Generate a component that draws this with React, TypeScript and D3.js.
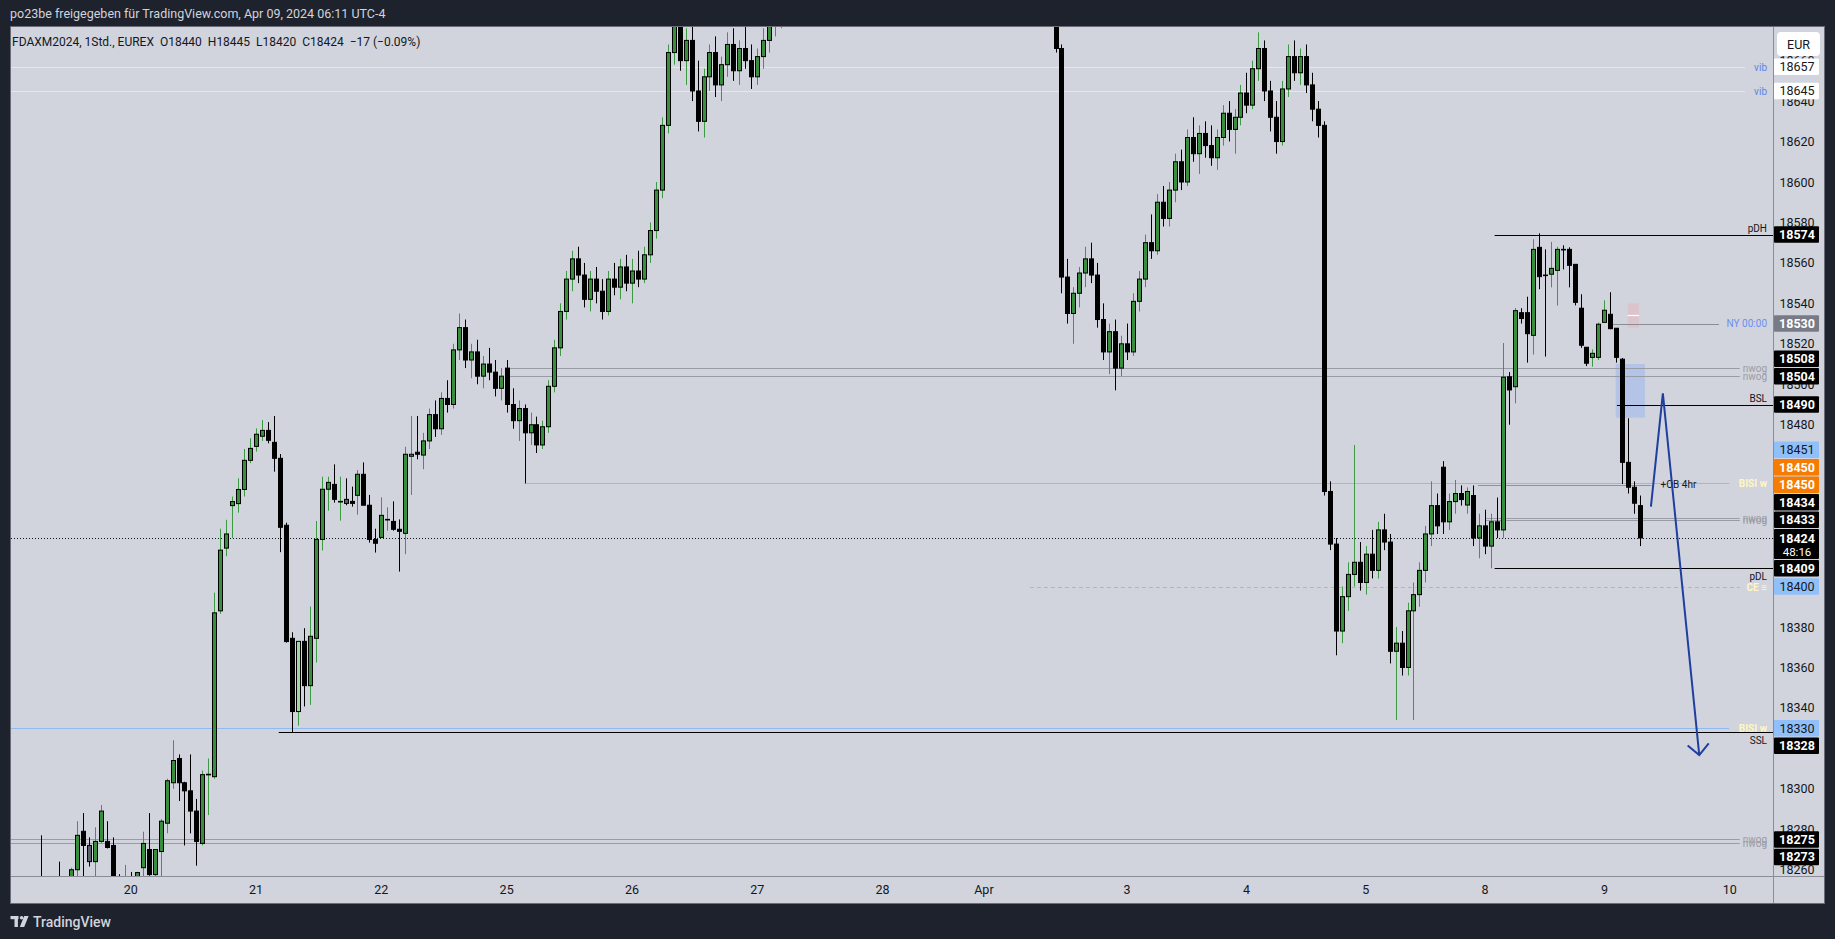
import React from 'react';
import * as d3 from 'd3';

// FDAX 1h candles, [open, high, low, close], first bar = leftmost visible wick
const candles: number[][] = [
  [18250, 18277, 18240, 18245], [18245, 18252, 18238, 18248], [18248, 18255, 18240, 18250], [18252, 18264, 18240, 18244],
  [18244, 18254, 18238, 18250], [18250, 18261, 18245, 18260], [18260, 18284, 18254, 18277], [18279, 18288, 18255, 18272],
  [18272, 18276, 18261.6, 18264], [18264, 18281, 18256, 18274], [18274, 18292, 18273, 18289], [18274, 18284, 18270.5, 18271],
  [18272, 18276, 18245, 18250], [18250, 18257.8, 18240, 18248], [18248, 18262.4, 18242, 18252], [18252, 18258.9, 18240, 18247],
  [18247, 18259, 18244, 18258.6], [18261, 18278.8, 18256, 18273], [18270, 18288, 18257, 18257.6], [18257.6, 18270, 18256.6, 18270],
  [18269, 18285, 18256, 18284], [18283, 18305, 18278, 18304], [18303, 18324, 18300, 18314], [18315, 18317, 18294, 18303],
  [18303, 18303.5, 18272, 18299], [18299, 18317, 18278, 18289], [18289, 18295, 18262, 18274], [18273, 18309, 18272, 18307],
  [18307, 18315, 18287, 18307.2], [18306, 18397, 18305, 18387], [18388, 18428.6, 18386.5, 18418], [18419, 18433, 18415, 18426],
  [18440, 18444.5, 18424, 18442], [18441, 18453.5, 18436.5, 18448], [18448, 18468, 18444.5, 18462.4], [18462.4, 18473.3, 18461, 18468.3],
  [18469.3, 18478.2, 18466.7, 18475.3], [18474.3, 18482.3, 18472, 18477.2], [18477.2, 18481.3, 18470.8, 18472.3], [18471.3, 18484.3, 18456.8, 18463.4],
  [18463.4, 18465.5, 18417, 18429.3], [18430.3, 18431.6, 18372.3, 18372.8], [18374.4, 18377.4, 18327.9, 18338.2], [18338.2, 18372.9, 18331.2, 18372.9],
  [18372.9, 18379.4, 18340.7, 18351], [18351, 18390.1, 18341.5, 18375.4], [18374.4, 18432.4, 18362.4, 18423.3], [18423.3, 18454.3, 18417.8, 18448.1],
  [18448.1, 18454.3, 18437.5, 18451.5], [18450.5, 18460.4, 18441.5, 18443.1], [18442.1, 18454.3, 18432.6, 18442.1], [18443.1, 18453.5, 18440.2, 18441.1],
  [18442.1, 18449.4, 18439.5, 18441.1], [18445.1, 18457.6, 18435.5, 18455.5], [18455.5, 18461.4, 18440.2, 18440.2], [18440.2, 18445.3, 18421.7, 18423.3],
  [18423.3, 18428.6, 18416.8, 18421.4], [18424.3, 18444.1, 18424.3, 18435.2], [18433.2, 18439.2, 18427.6, 18433.2], [18432.2, 18442.1, 18427.6, 18428.3],
  [18428.3, 18433.2, 18407.4, 18427.3], [18426.3, 18469.1, 18416, 18465.4], [18464.4, 18484.3, 18445.3, 18465.4], [18466.4, 18484.3, 18462.9, 18465.4],
  [18465, 18476, 18458, 18472], [18472, 18488, 18468, 18485], [18485, 18492, 18474, 18478], [18478, 18496, 18475, 18493],
  [18493, 18502, 18486, 18490], [18490, 18520, 18488, 18517], [18517, 18535, 18512, 18528], [18528, 18532, 18508, 18512],
  [18512, 18520, 18503, 18516], [18516, 18522, 18500, 18504], [18504, 18514, 18498, 18510], [18510, 18518, 18502, 18506],
  [18506, 18512, 18494, 18498], [18498, 18508, 18492, 18504], [18508, 18512, 18486, 18490], [18490, 18498, 18478, 18482],
  [18482, 18492, 18472, 18488], [18488, 18490, 18451, 18476], [18476, 18486, 18470, 18480], [18480, 18484, 18466, 18470],
  [18470, 18482, 18468, 18479], [18479, 18502, 18476, 18499], [18499, 18522, 18496, 18518], [18518, 18540, 18514, 18536],
  [18536, 18556, 18532, 18552], [18552, 18566, 18546, 18562], [18562, 18568, 18550, 18554], [18554, 18560, 18538, 18542],
  [18542, 18556, 18536, 18552], [18552, 18558, 18540, 18546], [18546, 18552, 18532, 18536], [18536, 18556, 18534, 18552],
  [18552, 18560, 18544, 18548], [18548, 18562, 18542, 18558], [18558, 18564, 18546, 18550], [18550, 18562, 18540, 18556],
  [18556, 18566, 18548, 18552], [18552, 18568, 18550, 18564], [18564, 18580, 18560, 18576], [18576, 18600, 18572, 18596],
  [18596, 18632, 18592, 18628], [18628, 18668, 18624, 18664], [18664, 18690, 18658, 18684], [18684, 18692, 18655, 18660],
  [18660, 18676, 18648, 18670], [18670, 18680, 18640, 18645], [18645, 18660, 18625, 18630], [18630, 18656, 18622, 18652],
  [18652, 18668, 18645, 18664], [18664, 18672, 18642, 18648], [18648, 18662, 18640, 18658], [18658, 18674, 18652, 18668],
  [18668, 18676, 18650, 18655], [18655, 18670, 18648, 18666], [18666, 18678, 18656, 18660], [18660, 18668, 18646, 18652],
  [18652, 18666, 18648, 18662], [18662, 18676, 18656, 18670], [18670, 18684, 18664, 18680], [18680, 18692, 18672, 18688],
  [18688, 18700, 18676, 18694], [18694, 18712, 18690, 18708],
  // above the visible window
  [18708, 18725, 18700, 18720], [18720, 18732, 18712, 18716], [18716, 18730, 18708, 18726], [18726, 18740, 18718, 18734],
  [18734, 18742, 18722, 18728], [18728, 18738, 18716, 18720], [18720, 18734, 18712, 18730], [18730, 18748, 18726, 18744],
  [18744, 18756, 18736, 18740], [18740, 18750, 18728, 18732], [18732, 18744, 18724, 18740], [18740, 18758, 18736, 18752],
  [18752, 18764, 18744, 18748], [18748, 18756, 18734, 18738], [18738, 18748, 18728, 18744], [18744, 18760, 18740, 18756],
  [18756, 18770, 18750, 18762], [18762, 18774, 18752, 18756], [18756, 18766, 18744, 18748], [18748, 18760, 18740, 18754],
  [18754, 18772, 18750, 18768], [18768, 18780, 18758, 18764], [18764, 18776, 18754, 18770], [18770, 18786, 18764, 18780],
  [18780, 18790, 18768, 18774], [18774, 18784, 18762, 18766], [18766, 18778, 18756, 18772], [18772, 18782, 18760, 18764],
  [18764, 18772, 18748, 18754], [18754, 18766, 18744, 18760], [18760, 18776, 18754, 18770], [18770, 18778, 18756, 18762],
  [18762, 18774, 18752, 18768], [18768, 18780, 18760, 18776], [18776, 18788, 18766, 18772], [18772, 18780, 18756, 18760],
  [18760, 18768, 18742, 18748], [18748, 18760, 18736, 18752], [18752, 18762, 18738, 18742], [18742, 18750, 18726, 18732],
  [18732, 18744, 18720, 18738], [18738, 18746, 18722, 18726], [18726, 18736, 18712, 18718], [18718, 18728, 18704, 18710],
  [18710, 18714, 18664, 18666], [18666, 18668, 18545, 18553], [18553, 18562, 18530, 18535], [18535, 18548, 18520, 18545],
  [18545, 18558, 18538, 18555], [18555, 18568, 18548, 18562], [18562, 18570, 18550, 18554], [18554, 18560, 18528, 18532],
  [18532, 18540, 18512, 18516], [18516, 18530, 18505, 18526], [18526, 18532, 18497, 18508], [18508, 18524, 18504, 18520],
  [18520, 18530, 18512, 18516], [18516, 18545, 18514, 18541], [18541, 18556, 18536, 18552], [18552, 18574, 18548, 18570],
  [18570, 18584, 18562, 18566], [18566, 18594, 18564, 18590], [18590, 18598, 18578, 18582], [18582, 18600, 18578, 18596],
  [18596, 18614, 18590, 18610], [18610, 18616, 18596, 18600], [18600, 18626, 18598, 18622], [18622, 18632, 18610, 18614],
  [18614, 18628, 18604, 18624], [18624, 18630, 18612, 18618], [18618, 18628, 18608, 18612], [18612, 18626, 18606, 18622],
  [18622, 18638, 18618, 18634], [18634, 18640, 18620, 18626], [18626, 18636, 18614, 18632], [18632, 18648, 18628, 18644],
  [18644, 18654, 18634, 18638], [18638, 18660, 18636, 18656], [18656, 18674, 18650, 18666], [18666, 18670, 18640, 18645],
  [18645, 18650, 18625, 18632], [18632, 18640, 18614, 18620], [18620, 18650, 18618, 18646], [18646, 18668, 18642, 18662],
  [18662, 18670, 18650, 18654], [18654, 18666, 18648, 18662], [18662, 18668, 18644, 18648], [18648, 18654, 18630, 18636],
  [18636, 18640, 18622, 18628], [18628, 18630, 18445, 18447], [18447, 18452, 18418, 18421], [18421, 18424, 18366, 18378],
  [18378, 18400, 18372, 18395], [18395, 18412, 18388, 18406], [18406, 18470, 18400, 18412], [18412, 18422, 18398, 18402],
  [18402, 18420, 18396, 18416], [18416, 18428, 18404, 18408], [18408, 18432, 18404, 18428], [18428, 18436, 18418, 18422],
  [18422, 18426, 18362, 18368], [18368, 18380, 18334, 18372], [18372, 18378, 18356, 18360], [18360, 18392, 18356, 18388],
  [18388, 18402, 18334, 18396], [18396, 18412, 18390, 18408], [18408, 18430, 18402, 18426], [18426, 18452, 18420, 18440],
  [18440, 18446, 18426, 18430], [18459, 18462, 18426, 18432], [18432, 18446, 18428, 18442], [18442, 18452.7, 18436, 18446],
  [18446, 18450, 18440, 18443], [18440.3, 18449, 18436, 18447], [18445, 18450, 18420, 18424], [18424, 18436, 18414, 18430],
  [18430, 18438, 18416, 18420], [18420, 18436, 18409, 18432], [18432, 18444, 18424, 18428], [18428, 18520.4, 18424, 18503.5],
  [18503.7, 18506, 18480, 18497.2], [18498.8, 18537.7, 18490.6, 18536.4], [18535.4, 18537.6, 18530, 18532.5], [18535.4, 18543.3, 18510.7, 18525],
  [18524.2, 18571.7, 18514.7, 18566.7], [18567.7, 18574.6, 18547, 18553.2], [18554, 18566.7, 18513.7, 18553.9], [18554.4, 18570.4, 18547.9, 18557.3],
  [18556.3, 18568, 18538.9, 18566.7], [18566.7, 18568.7, 18556.8, 18566.6], [18566.7, 18567.7, 18547.9, 18558.8], [18559.3, 18559.3, 18539, 18540.5],
  [18537.6, 18544.5, 18518, 18519.3], [18518.3, 18518.3, 18509, 18510.4], [18513.3, 18517.3, 18508.7, 18515.3], [18513.3, 18530.5, 18512, 18529.7],
  [18530.6, 18541.5, 18530.6, 18536.6], [18534.6, 18545.5, 18527.2, 18527.5], [18527.7, 18527.7, 18510.7, 18513.3], [18512.4, 18513, 18450.7, 18461.4],
  [18461.4, 18483.2, 18446, 18449.1], [18449.1, 18452, 18436, 18441.2], [18440, 18445, 18420, 18424],
];
const lightCandles = [43];
const grayCandles = [8, 51];

const dayLabels = ['20', '21', '22', '25', '26', '27', '28', 'Apr', '3', '4', '5', '8', '9', '10'];
const dayBars = [15, 36, 57, 78, 99, 120, 141, 158, 182, 202, 222, 242, 262, 283];
const priceTicks = d3.range(18260, 18661, 20);

// price scale labels
const labelPrices = [18657, 18645, 18574, 18530, 18508, 18504, 18490, 18451, 18450, 18450, 18434, 18433, 18409, 18400, 18330, 18328, 18275, 18273];
const labelKinds = ['white', 'white', 'black', 'gray', 'black', 'black', 'black', 'blue', 'orange', 'orange', 'black', 'black', 'black', 'blue', 'blue', 'black', 'black', 'black'];
const lastClose = 18424;
const countdown = '48:16';

// horizontal levels drawn on the chart: price, first bar (null = from left edge), text
const levelPrices = [18657, 18645, 18508, 18504, 18451, 18434, 18433, 18400, 18330, 18275, 18273];
const levelStart = [null, null, 78, 78, 81, 242, 242, 165.7, null, null, null];
const levelText = ['vib', 'vib', 'nwog', 'nwog', 'BISI w', 'nwog', 'nwog', 'CE ≡', 'BISI w', 'nwog', 'nwog'];
const levelKind = ['vib', 'vib', 'nwog', 'nwog', 'bisi', 'nwog', 'nwog', 'ce', 'bisi', 'nwog', 'nwog'];
// solid black liquidity lines with text above/below
const liqPrices = [18574, 18490, 18409, 18328];
const liqStart = [243.6, 264.1, 243.6, 39.8];
const liqText = ['pDH', 'BSL', 'pDL', 'SSL'];
const liqTextAbove = [true, true, false, false];

const obPrice = 18450, obFrom = 240.8, obTo = 269.9;
const nyPrice = 18530, nyFrom = 262.6, nyTo = 281.2;
const fvgBlue = { from: 263.9, to: 268.8, lo: 18483.5, hi: 18510 };
const fvgPink = { from: 265.9, to: 267.8, lo: 18528, hi: 18540, mid: 18534 };
// hand-drawn arrow (bar index, price)
const arrowPts = [[269.8, 18439.5], [271.8, 18495.5], [277.9, 18316.7]];

const W = 1835, H = 939;
const L = 11, R = 1773, T = 27, B = 876;
const font = 'Roboto, "Noto Sans", sans-serif';

export default function App() {
  const x = d3.scaleLinear().domain([0, 1]).range([41.3, 41.3 + 5.966]);
  const y = d3.scaleLinear().domain([18380, 18600]).range([627, 182]);

  // price label layout: stack away from the last price
  const LH = 17.5;
  const cur = y(lastClose);
  const items = labelPrices.map((p, i) => ({ p, kind: labelKinds[i], cy: y(p), i }));
  let lim = cur - 9;
  items.filter(d => d.p > lastClose).sort((a, b) => a.p - b.p || b.i - a.i).forEach(d => {
    d.cy = Math.min(y(d.p), lim - LH / 2); lim = d.cy - LH / 2;
  });
  lim = cur + 21;
  items.filter(d => d.p < lastClose).sort((a, b) => b.p - a.p).forEach(d => {
    d.cy = Math.max(y(d.p), lim + LH / 2); lim = d.cy + LH / 2;
  });
  const boxes = items.map(d => [d.cy - LH / 2, d.cy + LH / 2]).concat([[cur - 9, cur + 21], [32, 56]]);
  // tick labels mostly hidden under a price label are not drawn
  const ticks = priceTicks.filter(p => {
    const t = y(p);
    return !boxes.some(([a, b]) => t - 4 >= a - 1 && t + 4 <= b + 1);
  });

  const kindStyle: Record<string, [string, string]> = {
    black: ['#000000', '#ffffff'], white: ['#ffffff', '#131722'], gray: ['#787b86', '#ffffff'],
    blue: ['#90bff9', '#131722'], orange: ['#f57c00', '#ffffff'],
  };
  const txtRight = 1767;
  const textW = (s: string) => s.length * 5.3 + 6;

  const line = d3.line<number[]>().x(d => x(d[0])).y(d => y(d[1]));
  const [pa, pb] = [arrowPts[1], arrowPts[2]];
  const ex = x(pb[0]), ey = y(pb[1]);
  const ang = Math.atan2(ey - y(pa[1]), ex - x(pa[0]));
  const head = [ang + Math.PI * 0.75, ang - Math.PI * 0.75].map(a => [ex + 15 * Math.cos(a), ey + 15 * Math.sin(a)]);

  return (
    <svg width={W} height={H} style={{ display: 'block', position: 'absolute', left: 0, top: 0, fontFamily: font }}>
      <rect width={W} height={H} fill="#1e222d" />
      <text x={10} y={18} fontSize={12.5} fill="#d1d4dc">po23be freigegeben für TradingView.com, Apr 09, 2024 06:11 UTC-4</text>
      <rect x={10.5} y={26.5} width={1814} height={877} fill="#d1d4dc" stroke="#6a6d78" />
      <defs>
        <clipPath id="plot"><rect x={L} y={T} width={R - L} height={B - T} /></clipPath>
      </defs>

      {/* price ticks (under labels) */}
      {ticks.map(p => (
        <text key={p} x={1797} y={y(p) + 4.5} fontSize={12.5} fill="#131722" textAnchor="middle">{p}</text>
      ))}

      <g clipPath="url(#plot)">
        {/* zones */}
        <rect x={x(fvgBlue.from)} y={y(fvgBlue.hi)} width={x(fvgBlue.to) - x(fvgBlue.from)} height={y(fvgBlue.lo) - y(fvgBlue.hi)} fill="#b3c4e6" />
        <rect x={x(fvgPink.from)} y={y(fvgPink.hi)} width={x(fvgPink.to) - x(fvgPink.from)} height={y(fvgPink.lo) - y(fvgPink.hi)} fill="#dcc4cc" />
        <line x1={x(fvgPink.from)} x2={x(fvgPink.to)} y1={y(fvgPink.mid)} y2={y(fvgPink.mid)} stroke="#ffffff" strokeWidth={1.2} />

        {/* levels */}
        {levelPrices.map((p, i) => {
          const k = levelKind[i];
          const x1 = levelStart[i] == null ? L : x(levelStart[i] as number);
          const x2 = txtRight - textW(levelText[i]);
          const yy = Math.round(y(p)) + 0.5;
          const stroke = k === 'vib' ? '#e6e8ee' : k === 'nwog' ? '#9a9ca5' : '#8fbaf5';
          const tcol = k === 'vib' ? '#5b86e5' : k === 'nwog' ? '#9a9ca5' : '#fff7c2';
          return (
            <g key={'lv' + i}>
              <line x1={x1} x2={x2} y1={yy} y2={yy} stroke={stroke} strokeWidth={1} strokeDasharray={k === 'ce' ? '4 3' : undefined} />
              <text x={txtRight} y={yy + 3.5} fontSize={10} fill={tcol} textAnchor="end" fontWeight={k === 'bisi' || k === 'ce' ? 700 : 400}>{levelText[i]}</text>
            </g>
          );
        })}
        {liqPrices.map((p, i) => {
          const yy = Math.round(y(p)) + 0.5;
          return (
            <g key={'lq' + i}>
              <line x1={x(liqStart[i])} x2={R} y1={yy} y2={yy} stroke="#000" strokeWidth={1.2} />
              <text x={txtRight} y={liqTextAbove[i] ? yy - 4 : yy + 11} fontSize={10} fill="#131722" textAnchor="end">{liqText[i]}</text>
            </g>
          );
        })}
        <line x1={x(obFrom)} x2={x(obTo)} y1={Math.round(y(obPrice)) + 0.5} y2={Math.round(y(obPrice)) + 0.5} stroke="#f57c00" strokeWidth={1} />
        <text x={x(obTo) + 9} y={y(obPrice) + 3} fontSize={10} fill="#131722">+OB 4hr</text>
        <line x1={x(nyFrom)} x2={x(nyTo)} y1={Math.round(y(nyPrice)) + 0.5} y2={Math.round(y(nyPrice)) + 0.5} stroke="#8a8d96" strokeWidth={1} />
        <text x={txtRight} y={y(nyPrice) + 3.5} fontSize={10} fill="#6b8ff0" textAnchor="end">NY 00:00</text>
        <line x1={L} x2={R} y1={Math.round(cur) + 0.5} y2={Math.round(cur) + 0.5} stroke="#131722" strokeWidth={1} strokeDasharray="1 2" />

        {/* candles */}
        {candles.map(([o, h, l, c], i) => {
          const up = c >= o;
          const cx = Math.round(x(i)) + 0.5;
          const top = y(Math.max(o, c)), bot = y(Math.min(o, c));
          const fill = lightCandles.includes(i) ? '#a5d6a7' : grayCandles.includes(i) ? '#5d606b' : up ? '#388e3c' : '#000000';
          return (
            <g key={'c' + i}>
              <line x1={cx} x2={cx} y1={y(h)} y2={y(l)} stroke={up ? '#3c9a40' : '#000000'} strokeWidth={1} />
              <rect x={cx - 2} y={top} width={4} height={Math.max(bot - top, 0.6)} fill={fill} stroke="#000000" strokeWidth={1} />
            </g>
          );
        })}

        {/* drawing */}
        <path d={line(arrowPts) || ''} fill="none" stroke="#1f3f9e" strokeWidth={2} strokeLinejoin="miter" />
        <path d={`M${head[0][0]},${head[0][1]}L${ex},${ey}L${head[1][0]},${head[1][1]}`} fill="none" stroke="#1f3f9e" strokeWidth={2} />
      </g>

      <text x={12} y={46} fontSize={12} fill="#131722" style={{ whiteSpace: 'pre' }}>FDAXM2024, 1Std., EUREX  O18440  H18445  L18420  C18424  −17 (−0.09%)</text>

      {/* axes frames */}
      <line x1={R + 0.5} x2={R + 0.5} y1={T} y2={903} stroke="#8a8d96" />
      <line x1={L} x2={1824} y1={B + 0.5} y2={B + 0.5} stroke="#8a8d96" />
      {dayLabels.map((d, i) => (
        <text key={d} x={x(dayBars[i])} y={894} fontSize={12.5} fill="#131722" textAnchor="middle">{d}</text>
      ))}

      {/* price labels */}
      {items.map((d, k) => {
        const [bg, fg] = kindStyle[d.kind];
        return (
          <g key={'pl' + k}>
            <rect x={1774} y={d.cy - LH / 2 + 0.5} width={45} height={LH - 1} fill={bg} rx={1} />
            <text x={1797} y={d.cy + 4.5} fontSize={12.5} fill={fg} textAnchor="middle" fontWeight={d.kind === 'black' || d.kind === 'orange' || d.kind === 'gray' ? 700 : 400}>{d.p}</text>
          </g>
        );
      })}
      <rect x={1774} y={cur - 9} width={45} height={30} fill="#000" rx={1} />
      <text x={1797} y={cur + 4.5} fontSize={12.5} fill="#fff" textAnchor="middle" fontWeight={700}>{lastClose}</text>
      <text x={1797} y={cur + 17.5} fontSize={11.5} fill="#fff" textAnchor="middle">{countdown}</text>
      <rect x={1777} y={32} width={43} height={24} fill="#ffffff" rx={4} />
      <text x={1798.5} y={48.5} fontSize={12.5} fill="#131722" textAnchor="middle">EUR</text>

      {/* footer logo */}
      <g fill="#d1d4dc">
        <rect x={10.5} y={916} width={8} height={3.2} />
        <rect x={14.5} y={916} width={3.4} height={11} />
        <circle cx={21.6} cy={917.7} r={1.8} />
        <path d="M24.2,916 L28.6,916 L24.2,927 L19.8,927 Z" />
      </g>
      <text x={33} y={927} fontSize={14} fill="#d1d4dc" fontWeight={500}>TradingView</text>
    </svg>
  );
}
